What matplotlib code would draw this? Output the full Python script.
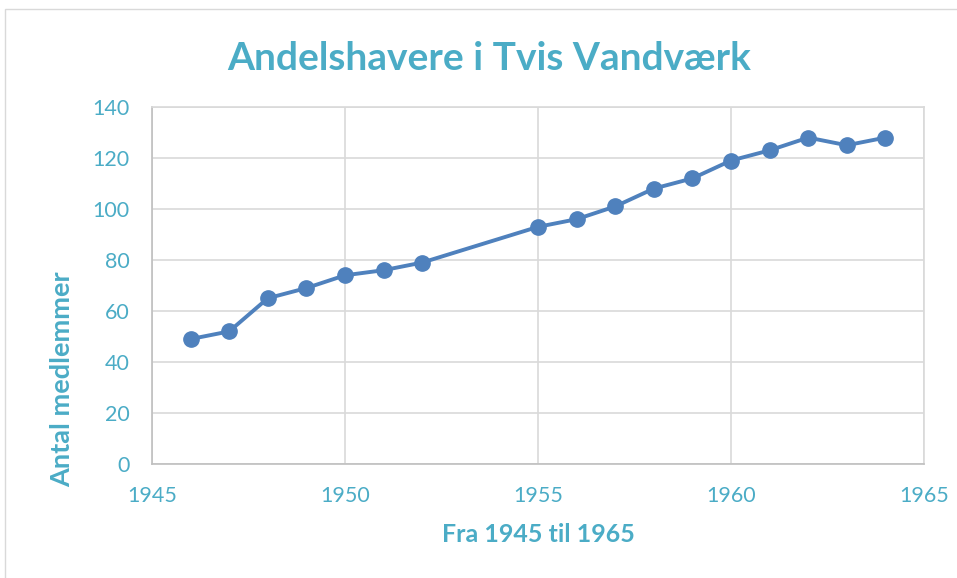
import matplotlib
matplotlib.use("Agg")
import matplotlib.pyplot as plt
from matplotlib.patches import Rectangle

plt.rcParams["font.family"] = ["Lato", "DejaVu Sans"]

years = [1946, 1947, 1948, 1949, 1950, 1951, 1952, 1955, 1956, 1957,
         1958, 1959, 1960, 1961, 1962, 1963, 1964]
members = [49, 52, 65, 69, 74, 76, 79, 93, 96, 101,
           108, 112, 119, 123, 128, 125, 128]
x_ticks = [1945, 1950, 1955, 1960, 1965]
y_ticks = [0, 20, 40, 60, 80, 100, 120, 140]

C_TEXT = "#4BACC6"
C_LINE = "#4F81BD"
C_GRID = "#D9D9D9"
C_AXIS = "#BFBFBF"

fig = plt.figure(figsize=(9.57, 5.78), dpi=100)
ax = fig.add_axes([152 / 957, 1 - 464 / 578, 772 / 957, 357 / 578])

# outer chart frame
fig.patches.append(Rectangle((5 / 957, -0.05), 1.0, 1.05 - 9 / 578,
                             transform=fig.transFigure, fill=False,
                             edgecolor=C_GRID, lw=1.0))

ax.plot(years, members, color=C_LINE, lw=2.8, marker="o", ms=11,
        zorder=3)

ax.set_xlim(1945, 1965)
ax.set_ylim(0, 140)
ax.set_xticks(x_ticks)
ax.set_yticks(y_ticks)
ax.grid(True, color=C_GRID, lw=1.2)
ax.set_axisbelow(True)
for side in ["top", "right"]:
    ax.spines[side].set_color(C_GRID)
    ax.spines[side].set_linewidth(1.2)
for side in ["left", "bottom"]:
    ax.spines[side].set_color(C_AXIS)
    ax.spines[side].set_linewidth(1.2)

ax.tick_params(axis="both", length=0, labelsize=15.5, labelcolor=C_TEXT)
ax.tick_params(axis="y", pad=16)
ax.tick_params(axis="x", pad=16)

ax.set_xlabel("Fra 1945 til 1965", fontsize=18, fontweight="bold",
              color=C_TEXT)
ax.xaxis.set_label_coords((538 - 152) / 772, -(535 - 464) / 357)
ax.xaxis.label.set_va("center")

ax.set_ylabel("Antal medlemmer", fontsize=19.5, fontweight="bold",
              color=C_TEXT)
ax.yaxis.set_label_coords((62 - 152) / 772, (464 - 379) / 357)
ax.yaxis.label.set_va("center")

fig.text(489 / 957, 1 - 70 / 578, "Andelshavere i Tvis Vandværk",
         fontsize=28, fontweight="bold", color=C_TEXT,
         ha="center", va="baseline")

fig.savefig("out.png", dpi=100)
plt.close(fig)
